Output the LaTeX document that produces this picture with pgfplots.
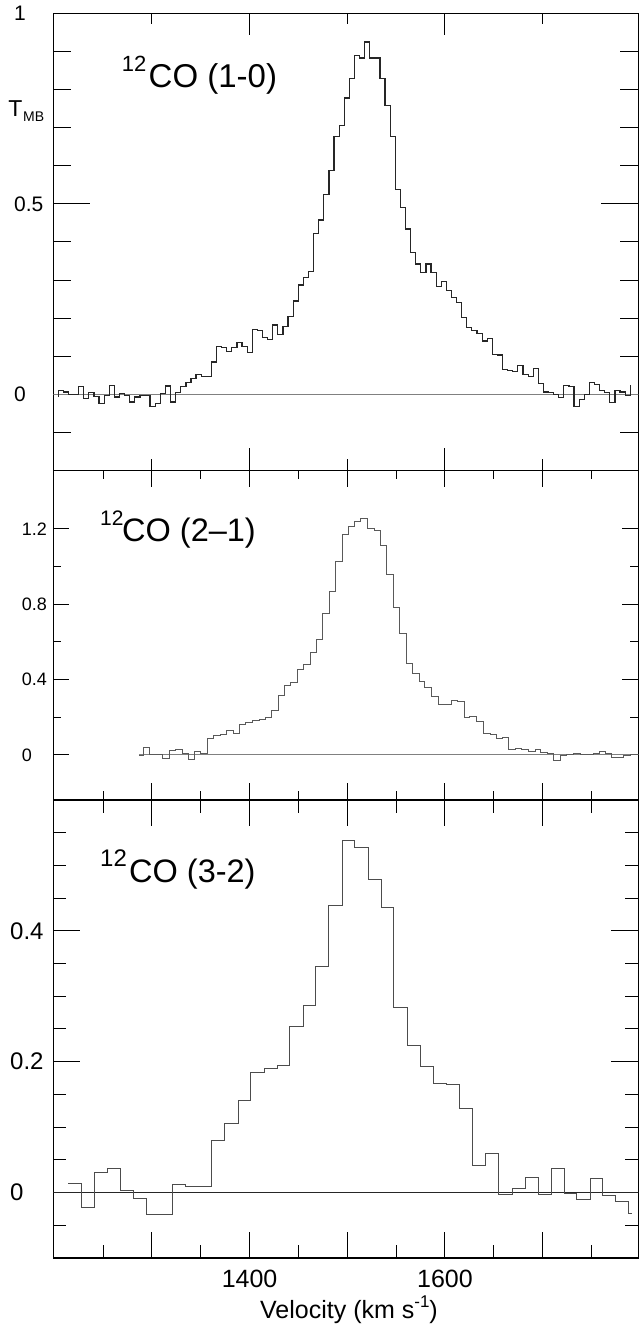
\documentclass[border=0pt]{standalone}
\usepackage{fontspec}
\setmainfont{Liberation Sans}
\usepackage{pgfplots}
\pgfplotsset{compat=1.18}
\begin{document}
\begin{tikzpicture}
\pgfplotsset{
  panel/.style={
    scale only axis, width=585pt, xmin=1199, xmax=1798,
    anchor=south west,
    axis line style={black, line width=1.1pt},
    tick style={black, line width=1pt},
    tick pos=both, tick align=inside,
  }
}
% ---------------- Panel 1 : 12CO (1-0)
\begin{axis}[panel, at={(53.3pt,855.5pt)}, height=457pt,
  ymin=-0.2, ymax=1.0,
  xtick={1400,1600}, minor xtick={1300,1500,1700}, xticklabels={},
  major x tick style={/pgfplots/major tick length=22pt},
  minor x tick style={/pgfplots/minor tick length=11pt},
  ytick={0,0.5,1}, yticklabels={0,0.5,1},
  minor ytick={-0.1,0.1,0.2,0.3,0.4,0.6,0.7,0.8,0.9},
  major y tick style={/pgfplots/major tick length=37pt},
  minor y tick style={/pgfplots/minor tick length=18pt},
  yticklabel style={anchor=west, inner sep=0pt, xshift=-39.3pt, font=\fontsize{21}{21}\selectfont},
]
\addplot[gray, line width=0.8pt, forget plot] coordinates {(1190,0)(1810,0)};
\addplot[const plot, line width=1.2pt, color=black!85] coordinates {
(1204.0,-0.007)(1204.0,0.011)(1209.2,0.006)(1214.5,0.0)(1219.7,0.0)(1224.9,0.021)(1230.2,-0.011)(1235.4,0.004)(1240.6,-0.005)(1245.8,-0.025)(1251.1,-0.003)(1256.3,0.024)(1261.5,-0.007)(1266.8,0.002)(1272.0,-0.003)(1277.2,-0.020)(1282.5,-0.007)(1287.7,-0.004)(1292.9,-0.004)(1298.1,-0.033)(1303.4,-0.025)(1308.6,0.002)(1313.8,0.022)(1319.1,-0.020)(1324.3,0.004)(1329.5,0.021)(1334.8,0.032)(1340.0,0.041)(1345.2,0.052)(1350.4,0.046)(1355.7,0.046)(1360.9,0.085)(1366.1,0.125)(1371.4,0.122)(1376.6,0.112)(1381.8,0.122)(1387.1,0.136)(1392.3,0.125)(1397.5,0.109)(1402.7,0.170)(1408.0,0.167)(1413.2,0.149)(1418.4,0.145)(1423.7,0.182)(1428.9,0.157)(1434.1,0.178)(1439.4,0.204)(1444.6,0.245)(1449.8,0.287)(1455.0,0.307)(1460.3,0.322)(1465.5,0.423)(1470.7,0.458)(1476.0,0.524)(1481.2,0.588)(1486.4,0.678)(1491.7,0.706)(1496.9,0.778)(1502.1,0.829)(1507.3,0.889)(1512.6,0.883)(1517.8,0.925)(1523.0,0.883)(1528.3,0.883)(1533.5,0.829)(1538.7,0.759)(1544.0,0.678)(1549.2,0.538)(1554.4,0.491)(1559.6,0.434)(1564.9,0.373)(1570.1,0.342)(1575.3,0.320)(1580.6,0.342)(1585.8,0.320)(1591.0,0.283)(1596.3,0.296)(1601.5,0.272)(1606.7,0.254)(1611.9,0.241)(1617.2,0.202)(1622.4,0.175)(1627.6,0.168)(1632.9,0.160)(1638.1,0.140)(1643.3,0.146)(1648.6,0.105)(1653.8,0.103)(1659.0,0.066)(1664.2,0.063)(1669.5,0.059)(1674.7,0.075)(1679.9,0.053)(1685.2,0.046)(1690.4,0.068)(1695.6,0.029)(1700.9,0.006)(1706.1,0.004)(1711.3,0.0)(1716.5,-0.009)(1721.8,0.024)(1727.0,0.020)(1732.2,-0.032)(1737.5,-0.013)(1742.7,0.0)(1747.9,0.032)(1753.2,0.026)(1758.4,0.011)(1763.6,0.004)(1768.8,-0.022)(1774.1,0.011)(1779.3,0.006)(1784.5,-0.003)(1789.8,-0.003)(1789.8,0.024)};
\end{axis}
% ---------------- Panel 2 : 12CO (2-1)
\begin{axis}[panel, at={(53.3pt,526pt)}, height=329.5pt,
  ymin=-0.24, ymax=1.51,
  xtick={1300,1400,1500,1600,1700}, minor xtick={1250,1350,1450,1550,1650,1750}, xticklabels={},
  major x tick style={/pgfplots/major tick length=17pt},
  minor x tick style={/pgfplots/minor tick length=9pt},
  ytick={0,0.4,0.8,1.2}, yticklabels={0,0.4,0.8,1.2},
  minor ytick={0.2,0.6,1.0},
  major y tick style={/pgfplots/major tick length=16pt},
  minor y tick style={/pgfplots/minor tick length=8pt},
  yticklabel style={anchor=west, inner sep=0pt, xshift=-31.6pt, font=\fontsize{18}{18}\selectfont},
]
\addplot[gray, line width=0.8pt, forget plot] coordinates {(1286.9,0)(1810,0)};
\addplot[const plot, line width=0.9pt, color=black!65] coordinates {
(1286.9,-0.005)(1291.8,0.041)(1297.2,0.0)(1310.9,-0.021)(1317.7,0.023)(1324.5,0.027)(1331.4,0.009)(1337.1,-0.027)(1343.3,0.016)(1350.1,0.009)(1356.6,0.088)(1363.4,0.101)(1370.3,0.110)(1376.4,0.128)(1383.2,0.115)(1389.3,0.163)(1396.2,0.172)(1403.1,0.183)(1409.8,0.186)(1416.7,0.200)(1422.5,0.236)(1429.3,0.315)(1436.1,0.366)(1442.3,0.386)(1449.2,0.452)(1455.6,0.478)(1461.8,0.546)(1468.6,0.611)(1474.8,0.750)(1481.5,0.870)(1488.4,1.029)(1494.8,1.171)(1501.0,1.211)(1507.1,1.241)(1514.0,1.254)(1520.8,1.200)(1527.6,1.191)(1534.1,1.110)(1540.3,0.958)(1547.0,0.784)(1553.9,0.643)(1560.1,0.484)(1566.9,0.433)(1573.4,0.391)(1579.5,0.356)(1586.4,0.308)(1593.1,0.269)(1599.3,0.268)(1606.2,0.291)(1613.0,0.282)(1619.5,0.198)(1625.6,0.206)(1632.5,0.179)(1639.2,0.113)(1646.1,0.108)(1652.9,0.085)(1659.1,0.090)(1665.2,0.031)(1671.7,0.036)(1678.6,0.030)(1685.3,0.017)(1692.2,0.026)(1698.3,0.011)(1705.2,0.007)(1710.9,-0.028)(1717.8,-0.002)(1724.6,0.003)(1731.4,0.006)(1738.3,0.0)(1745.1,0.002)(1751.9,0.009)(1758.0,0.019)(1763.9,0.005)(1770.0,-0.013)(1776.9,-0.014)(1783.3,-0.005)(1789.5,0.0)(1805,0.0)};
\end{axis}
% ---------------- Panel 3 : 12CO (3-2)
\begin{axis}[panel, at={(53.3pt,68pt)}, height=458pt,
  ymin=-0.1, ymax=0.6,
  xtick={1300,1400,1500,1600,1700}, xticklabels={,1400,,1600,},
  minor xtick={1250,1350,1450,1550,1650,1750},
  major x tick style={/pgfplots/major tick length=26pt},
  minor x tick style={/pgfplots/minor tick length=13pt},
  xticklabel style={inner sep=0pt, yshift=-12pt, font=\fontsize{25}{25}\selectfont},
  ytick={0,0.2,0.4}, yticklabels={0,0.2,0.4},
  minor ytick={-0.05,0.05,0.1,0.15,0.25,0.3,0.35,0.45,0.5,0.55},
  major y tick style={/pgfplots/major tick length=27pt},
  minor y tick style={/pgfplots/minor tick length=13pt},
  yticklabel style={anchor=west, inner sep=0pt, xshift=-43.3pt, font=\fontsize{24}{24}\selectfont},
]
\addplot[black!85, line width=0.8pt, forget plot] coordinates {(1190,0)(1810,0)};
\addplot[const plot, line width=0.9pt, color=black!70] coordinates {
(1214.2,0.014)(1227.9,-0.022)(1241.6,0.031)(1254.2,0.037)(1267.9,0.004)(1280.8,-0.009)(1294.5,-0.034)(1308.1,-0.034)(1321.1,0.0125)(1334.8,0.009)(1348.1,0.010)(1361.4,0.079)(1374.7,0.106)(1388.3,0.141)(1401.3,0.1835)(1415.0,0.189)(1428.3,0.194)(1441.3,0.254)(1454.9,0.286)(1467.9,0.346)(1480.5,0.439)(1494.8,0.538)(1507.8,0.528)(1521.5,0.478)(1534.5,0.4355)(1547.8,0.2835)(1561.4,0.2254)(1575.1,0.193)(1588.0,0.167)(1601.7,0.166)(1614.6,0.128)(1628.4,0.041)(1641.7,0.060)(1655.3,-0.003)(1668.9,0.0065)(1682.6,0.0234)(1695.5,-0.003)(1709.3,0.0364)(1722.2,-0.002)(1734.9,-0.011)(1748.5,0.0217)(1761.5,-0.005)(1774.8,-0.0136)(1787.7,-0.0315)(1791.2,-0.0315)};
\end{axis}
% ---------------- texts
\node[anchor=base west, inner sep=0pt, font=\fontsize{22}{22}\selectfont] at (121.7pt,1254pt) {12};
\node[anchor=base west, inner sep=0pt, font=\fontsize{33}{33}\selectfont] at (148.5pt,1238pt) {CO (1-0)};
\node[anchor=base west, inner sep=0pt, font=\fontsize{23}{23}\selectfont] at (8.3pt,1209pt) {T};
\node[anchor=base west, inner sep=0pt, font=\fontsize{14}{14}\selectfont] at (23pt,1204pt) {MB};
\node[anchor=base west, inner sep=0pt, font=\fontsize{21}{21}\selectfont] at (100pt,800.5pt) {12};
\node[anchor=base west, inner sep=0pt, font=\fontsize{32.5}{32.5}\selectfont] at (122pt,784.3pt) {CO (2–1)};
\node[anchor=base west, inner sep=0pt, font=\fontsize{24}{24}\selectfont] at (100pt,459pt) {12};
\node[anchor=base west, inner sep=0pt, font=\fontsize{32.5}{32.5}\selectfont] at (129pt,443pt) {CO (3-2)};
\node[anchor=base, inner sep=0pt, font=\fontsize{25}{25}\selectfont] at (349pt,8pt) {Velocity (km s\raisebox{10pt}{\fontsize{17}{17}\selectfont -1})};
\pgfresetboundingbox
\path[use as bounding box] (0pt,0pt) rectangle (639pt,1326pt);
\end{tikzpicture}
\end{document}
